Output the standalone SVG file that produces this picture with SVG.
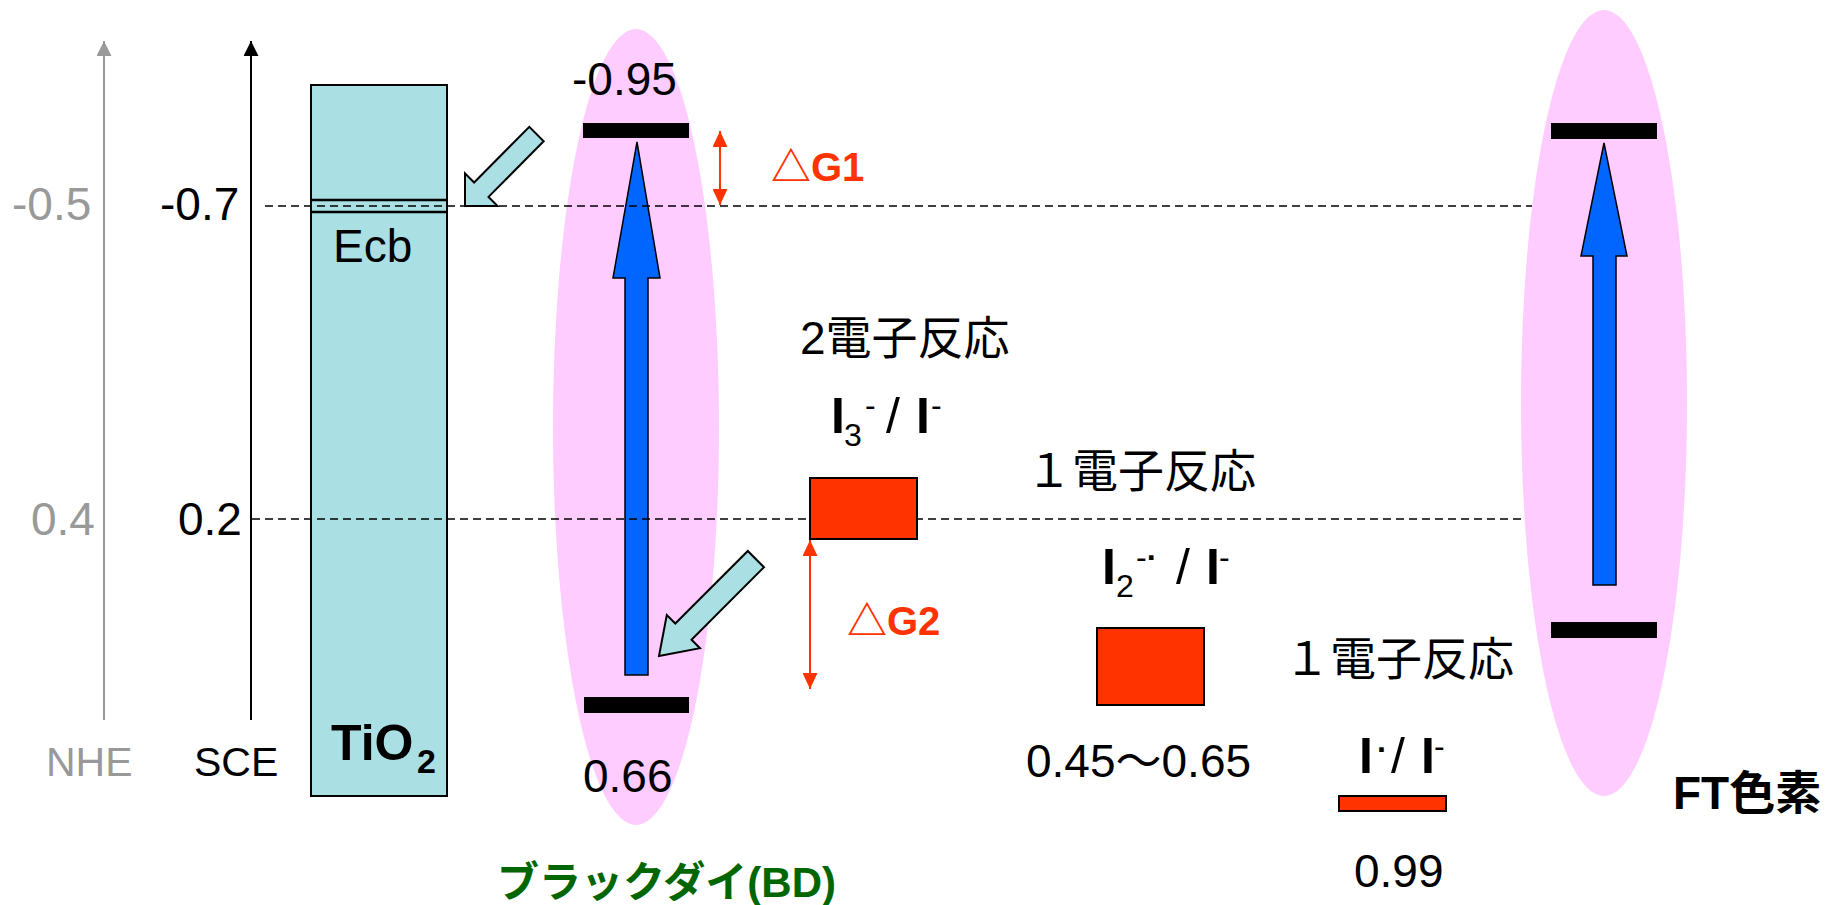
<svg xmlns="http://www.w3.org/2000/svg" width="1831" height="905" viewBox="0 0 1831 905">
<style>
text{font-family:"Liberation Sans","Noto Sans CJK JP",sans-serif;}
.v{font-size:46px;fill:#000;}
.g{fill:#999999;}
.ax{font-size:41px;}
.jp{font-size:46px;fill:#000;}
.big{font-size:50px;fill:#000;}
.bi{font-size:50px;fill:#000;font-weight:bold;}
.sub{font-size:32px;fill:#000;}
.dg{font-size:40px;font-weight:bold;fill:#ff3300;}
.ell{fill:#ffccff;}
.bar{fill:#000;}
.blue{fill:#0066ff;stroke:#000;stroke-width:1.5;}
.cyan{fill:#aadfe3;stroke:#000;stroke-width:2;}
.red{fill:#ff3300;stroke:#000;stroke-width:2;}
.dash{stroke:#000;stroke-width:1.5;stroke-dasharray:8 5;fill:none;}
.rline{stroke:#ff3300;stroke-width:2;fill:none;}
</style>
<defs>
<marker id="ar" viewBox="0 0 16 15" refX="16" refY="7.5" markerWidth="16" markerHeight="15" markerUnits="userSpaceOnUse" orient="auto-start-reverse"><path d="M0,0 L16,7.5 L0,15 z" fill="#ff3300"/></marker>
<marker id="ak" viewBox="0 0 15 15" refX="15" refY="7.5" markerWidth="15" markerHeight="15" markerUnits="userSpaceOnUse" orient="auto"><path d="M0,0 L15,7.5 L0,15 z" fill="#000"/></marker>
<marker id="ag" viewBox="0 0 15 15" refX="15" refY="7.5" markerWidth="15" markerHeight="15" markerUnits="userSpaceOnUse" orient="auto"><path d="M0,0 L15,7.5 L0,15 z" fill="#999999"/></marker>
</defs>
<rect width="1831" height="905" fill="#fff"/>

<g id="axis-nhe">
<line x1="104" y1="720" x2="104" y2="41" stroke="#999999" stroke-width="2" marker-end="url(#ag)"/>
<text class="v g" x="12" y="220">-0.5</text>
<text class="v g" x="31" y="535">0.4</text>
<text class="ax g" x="46" y="776">NHE</text>
</g>
<g id="axis-sce">
<line x1="251" y1="720" x2="251" y2="41" stroke="#000" stroke-width="2" marker-end="url(#ak)"/>
<text class="v" x="160" y="220">-0.7</text>
<text class="v" x="178" y="535">0.2</text>
<text class="ax" x="194" y="776" fill="#000">SCE</text>
</g>

<g id="dye-bd-bg"><ellipse class="ell" cx="636" cy="427" rx="83" ry="398"/></g>
<g id="dye-ft-bg"><ellipse class="ell" cx="1604" cy="403" rx="83" ry="393"/></g>

<g id="tio2">
<rect class="cyan" x="311" y="85" width="136" height="711"/>
<line x1="311" y1="200" x2="447" y2="200" stroke="#000" stroke-width="2.5"/>
<line x1="311" y1="212" x2="447" y2="212" stroke="#000" stroke-width="2.5"/>
<text x="333" y="262" font-size="46">Ecb</text>
<text x="331" y="760" font-size="50" font-weight="bold">TiO</text>
<text x="417" y="773" font-size="34" font-weight="bold">2</text>
</g>

<g id="dye-bd">
<rect class="bar" x="583" y="123" width="106" height="15"/>
<rect class="bar" x="584" y="697" width="105" height="16"/>
<polygon class="blue" points="637,142 660,278 648,278 648,675 625,675 625,278 613,278"/>
<text class="v" x="572" y="95">-0.95</text>
<text class="v" x="583" y="792">0.66</text>
<text x="497" y="897" font-size="42" font-weight="bold" fill="#006600">ブラックダイ(BD)</text>
</g>

<g id="dye-ft">
<rect class="bar" x="1551" y="123" width="106" height="16"/>
<rect class="bar" x="1551" y="622" width="106" height="16"/>
<polygon class="blue" points="1604,143 1627,256 1616,256 1616,585 1593,585 1593,256 1581,256"/>
<text x="1673" y="809" font-size="46" font-weight="bold">FT色素</text>
</g>

<g id="connectors">
<line class="dash" x1="265" y1="206" x2="1532" y2="206"/>
<line class="dash" x1="252" y1="519" x2="1524" y2="519"/>
<polygon class="cyan" points="465,206 497.6,206 488.5,196.9 543.7,141.2 529.3,126.8 474.1,182.5 465,173.4"/>
<polygon class="cyan" points="659,656 700,648.2 691.5,639.7 764,567.2 747.8,551 675.3,623.5 666.8,615"/>
<line class="rline" x1="720" y1="131" x2="720" y2="205" marker-start="url(#ar)" marker-end="url(#ar)"/>
<line class="rline" x1="810" y1="540" x2="810" y2="689" marker-start="url(#ar)" marker-end="url(#ar)"/>
</g>

<g id="dg1"><text class="dg" x="771" y="181">△G1</text></g>
<g id="dg2"><text class="dg" x="847" y="635">△G2</text></g>

<g id="redox-i3">
<text class="jp" x="800" y="354">2電子反応</text>
<text class="bi" x="831" y="433">I</text>
<text class="sub" x="844" y="446">3</text>
<text class="sub" x="865" y="416">-</text>
<text class="big" x="886" y="433">/</text>
<text class="bi" x="916" y="433">I</text>
<text class="sub" x="931" y="416">-</text>
<rect class="red" x="810" y="478" width="107" height="61"/>
</g>

<g id="redox-i2">
<text class="jp" x="1026" y="487">１電子反応</text>
<text class="bi" x="1102" y="584">I</text>
<text class="sub" x="1116" y="597">2</text>
<text class="sub" x="1136" y="568">-<tspan font-weight="bold">·</tspan></text>
<text class="big" x="1176" y="584">/</text>
<text class="bi" x="1206" y="584">I</text>
<text class="sub" x="1219" y="568">-</text>
<rect class="red" x="1097" y="628" width="107" height="77"/>
<text class="v" x="1026" y="777" font-size="47">0.45〜0.65</text>
</g>

<g id="redox-i">
<text class="jp" x="1284" y="675">１電子反応</text>
<text class="bi" x="1359" y="773">I</text>
<text class="sub" x="1377" y="760" font-weight="bold">·</text>
<text class="big" x="1391" y="773">/</text>
<text class="bi" x="1421" y="773">I</text>
<text class="sub" x="1434" y="757">-</text>
<rect class="red" x="1339" y="796" width="107" height="15"/>
<text class="v" x="1354" y="887">0.99</text>
</g>
</svg>
